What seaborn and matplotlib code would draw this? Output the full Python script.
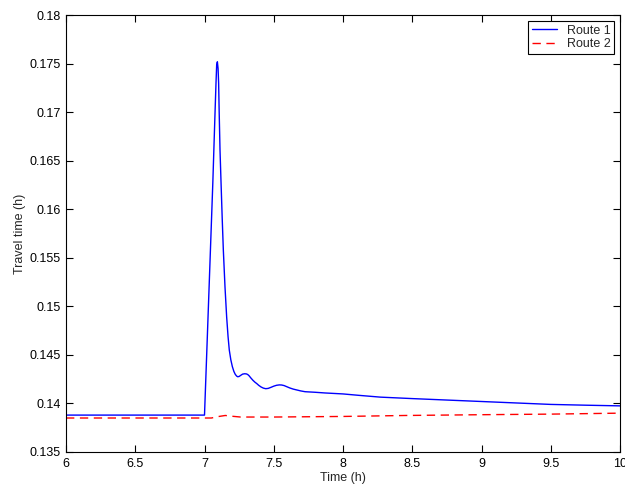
import matplotlib
matplotlib.use("Agg")
import matplotlib.pyplot as plt
import seaborn as sns
import pandas as pd

# Route 1 travel time
t1 = [6.0, 7.0, 7.02, 7.04, 7.06, 7.075, 7.083, 7.088, 7.093, 7.098, 7.102, 7.106, 7.112, 7.120,
      7.128, 7.136, 7.148, 7.160, 7.170, 7.179, 7.190, 7.201, 7.212, 7.222, 7.232, 7.240,
      7.250, 7.262, 7.275, 7.290, 7.303, 7.312, 7.322, 7.335, 7.350, 7.365, 7.377, 7.392,
      7.408, 7.425, 7.442, 7.460, 7.480, 7.500, 7.520, 7.540, 7.557, 7.575, 7.595, 7.615,
      7.640, 7.666, 7.695, 7.726, 7.80, 7.87, 8.0, 8.11, 8.27, 8.5, 8.75, 9.0, 9.25, 9.5, 9.75, 10.0]
v1 = [0.1388, 0.1388, 0.1467, 0.1547, 0.1627, 0.1695, 0.1730, 0.1749, 0.1752, 0.1745, 0.1730, 0.1700, 0.1661, 0.1625,
      0.1590, 0.1558, 0.1520, 0.1489, 0.1469, 0.1455, 0.1445, 0.1438, 0.1433, 0.14300, 0.14282, 0.14275,
      0.14278, 0.14290, 0.14302, 0.14306, 0.14304, 0.14298, 0.14285, 0.14262, 0.14238, 0.14218, 0.14205, 0.14186,
      0.14170, 0.14158, 0.14152, 0.14155, 0.14166, 0.14178, 0.14187, 0.14191, 0.14190, 0.14184, 0.14172, 0.14160,
      0.14148, 0.14139, 0.14129, 0.14121, 0.14115, 0.14108, 0.14098, 0.14084, 0.14065, 0.1405, 0.14035, 0.1402, 0.14005, 0.1399, 0.13982, 0.13975]

# Route 2 travel time
t2 = [6.0, 7.0, 7.05, 7.10, 7.15, 7.20, 7.26, 7.5, 8.0, 8.45, 9.0, 9.5, 10.0]
v2 = [0.1385, 0.1385, 0.1385, 0.13865, 0.13876, 0.13868, 0.1386, 0.1386, 0.13866, 0.13876, 0.13884, 0.1389, 0.1390]

df1 = pd.DataFrame({"Time": t1, "Travel": v1})
df2 = pd.DataFrame({"Time": t2, "Travel": v2})

sns.set_style("white")
plt.rcParams['font.family'] = ['Liberation Sans', 'DejaVu Sans']

fig = plt.figure(figsize=(6.25, 4.9), dpi=100)
ax = fig.add_axes([0.1056, 0.0776, 0.8864, 0.8914])

sns.lineplot(data=df1, x="Time", y="Travel", ax=ax, color="#0000ff", lw=1.0, label="Route 1")
sns.lineplot(data=df2, x="Time", y="Travel", ax=ax, color="#ff0000", lw=1.0,
             linestyle=(0, (6, 4)), label="Route 2")

ax.set_xlim(6, 10)
ax.set_ylim(0.135, 0.18)
ax.set_xticks([6, 6.5, 7, 7.5, 8, 8.5, 9, 9.5, 10])
ax.set_xticklabels(["6", "6.5", "7", "7.5", "8", "8.5", "9", "9.5", "10"])
yt = [0.135, 0.14, 0.145, 0.15, 0.155, 0.16, 0.165, 0.17, 0.175, 0.18]
ax.set_yticks(yt)
ax.set_yticklabels(["0.135", "0.14", "0.145", "0.15", "0.155", "0.16", "0.165", "0.17", "0.175", "0.18"])
ax.tick_params(direction="in", length=5, width=0.8, top=True, right=True,
               bottom=True, left=True, labelsize=9, colors="black", pad=4)
for s in ax.spines.values():
    s.set_color("black")
    s.set_linewidth(0.8)
ax.set_xlabel("Time (h)", fontsize=9, labelpad=2)
ax.set_ylabel("Travel time (h)", fontsize=9, labelpad=2)

leg = ax.legend(loc="upper right", fontsize=9, frameon=True, fancybox=False,
                edgecolor="black", framealpha=1, borderpad=0.3, handlelength=2.0,
                labelspacing=0.15, borderaxespad=0.45)
leg.get_frame().set_linewidth(0.8)

fig.savefig("out.png", dpi=100)
